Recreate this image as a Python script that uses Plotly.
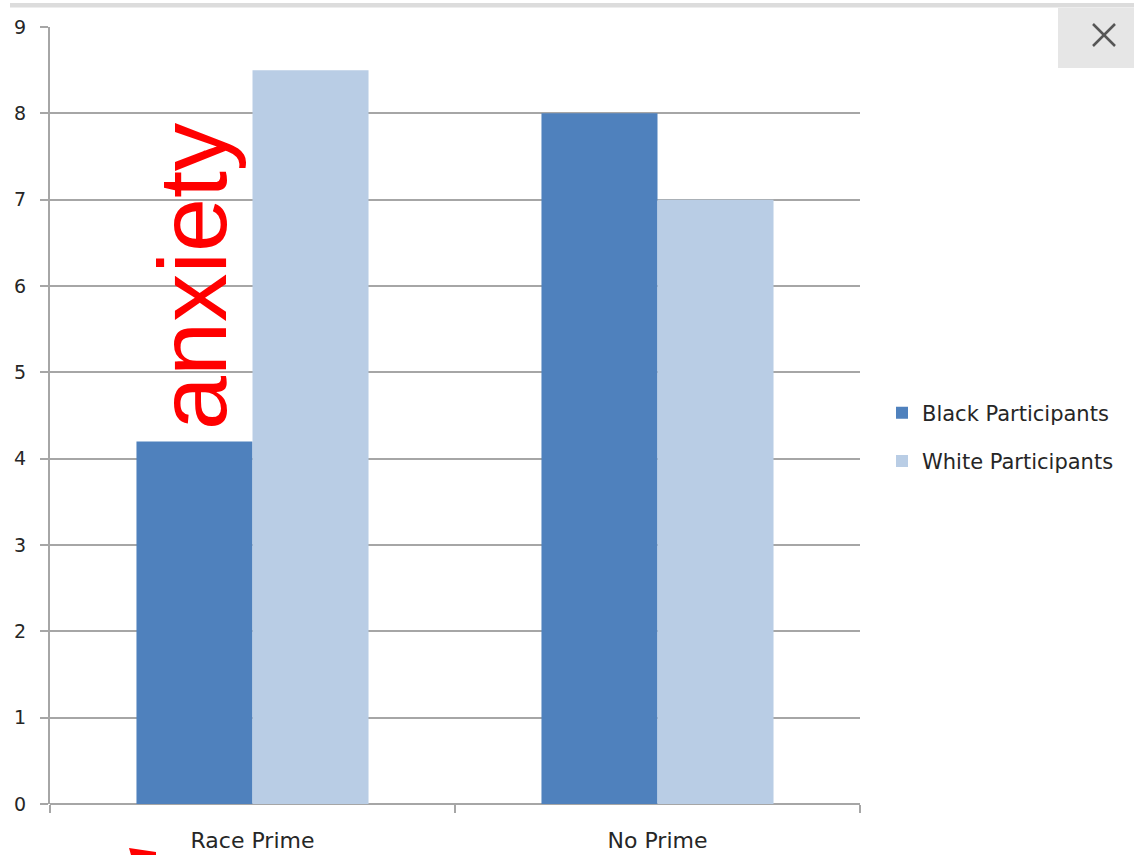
import plotly.graph_objects as go

categories = ["Race Prime", "No Prime"]
black_vals = [4.2, 8.0]
white_vals = [8.5, 7.0]
series_names = ["Black Participants", "White Participants"]
y_ticks = [0, 1, 2, 3, 4, 5, 6, 7, 8, 9]

W, H = 1134, 855
L, R, T, B = 50, 860, 27, 804

def px(x):
    return (x - L) / (R - L)

def py(y):
    return (B - y) / (B - T)

fig = go.Figure()
fig.add_trace(go.Bar(x=categories, y=black_vals, name=series_names[0],
                     marker=dict(color="#4F81BD", line=dict(width=0)), legendgroup="a"))
fig.add_trace(go.Bar(x=categories, y=white_vals, name=series_names[1],
                     marker=dict(color="#B9CDE5", line=dict(width=0)), legendgroup="b"))

fig.update_layout(
    width=W, height=H,
    margin=dict(l=L, r=W - R, t=T, b=H - B, autoexpand=False),
    paper_bgcolor="white", plot_bgcolor="white",
    barmode="group", bargap=0.427, bargroupgap=0,
    font=dict(family="DejaVu Sans, sans-serif", color="#333333"),
    showlegend=True,
    legend=dict(x=px(882), y=py(437), xanchor="left", yanchor="middle",
                xref="paper", yref="paper",
                font=dict(size=21, color="#262626"),
                tracegroupgap=18, itemwidth=30, bgcolor="rgba(0,0,0,0)"),
    xaxis=dict(showline=False, tickson="boundaries", ticks="outside", ticklen=8,
               tickcolor="#a6a6a6", tickwidth=2, showgrid=False, automargin=False,
               ticklabelstandoff=21,
               tickfont=dict(size=22, color="#262626")),
    yaxis=dict(range=[0, 9], tickvals=y_ticks, showgrid=True, gridcolor="#a6a6a6",
               gridwidth=1.5, showline=True, linecolor="#a6a6a6", linewidth=2,
               ticks="outside", ticklen=8, tickcolor="#a6a6a6", tickwidth=1.5,
               ticklabelstandoff=10, automargin=False,
               zeroline=True, zerolinecolor="#a6a6a6", zerolinewidth=2,
               tickfont=dict(size=19, color="#262626")),
)

shapes = [
    # top grey strip
    dict(type="rect", xref="paper", yref="paper", x0=px(10), x1=px(1134), y0=py(7.5), y1=py(3),
         fillcolor="#dcdcdc", line=dict(width=0), layer="above"),
    # close button
    dict(type="rect", xref="paper", yref="paper", x0=px(1058), x1=px(1134), y0=py(68), y1=py(8),
         fillcolor="#e6e6e6", line=dict(width=0), layer="above"),
    dict(type="line", xref="paper", yref="paper", x0=px(1093), x1=px(1115), y0=py(24), y1=py(46),
         line=dict(color="#555555", width=2.5), layer="above"),
    dict(type="line", xref="paper", yref="paper", x0=px(1093), x1=px(1115), y0=py(46), y1=py(24),
         line=dict(color="#555555", width=2.5), layer="above"),
    # red fragment bottom-left
    dict(type="path", xref="paper", yref="paper",
         path=f"M {px(129)},{py(848)} L {px(156)},{py(852)} L {px(156)},{py(855)} L {px(131)},{py(855)} Z",
         fillcolor="#ff0000", line=dict(width=0), layer="above"),
]
fig.update_layout(shapes=shapes)

fig.add_annotation(text="anxiety", xref="paper", yref="paper", x=px(192), y=py(276),
                   xanchor="center", yanchor="middle", textangle=-90, showarrow=False,
                   font=dict(family="Liberation Sans, Arial, sans-serif", size=97, color="#ff0000"))

fig.write_html("out.html")
